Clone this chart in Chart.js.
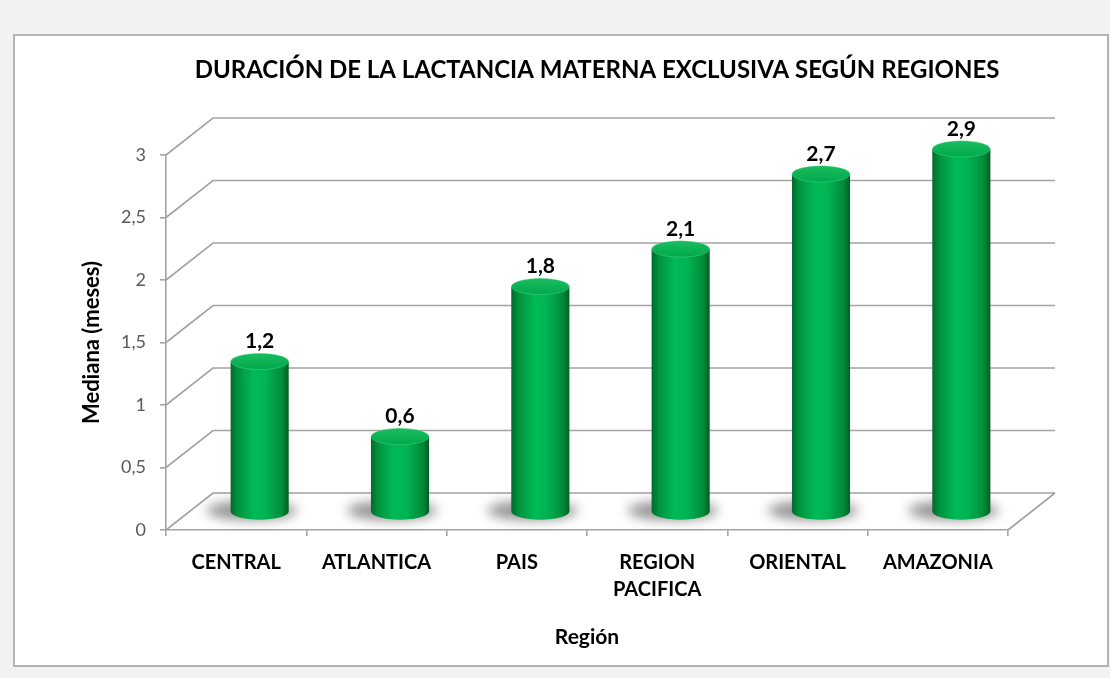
<!DOCTYPE html>
<html>
<head>
<meta charset="utf-8">
<script src="https://cdn.jsdelivr.net/npm/chart.js@4.4.1/dist/chart.umd.min.js"></script>
<style>
  html, body { margin: 0; padding: 0; background: #f2f2f2; }
  #wrap { position: absolute; left: 0; top: 0; width: 1110px; height: 678px; }
</style>
</head>
<body>
<div id="wrap"><canvas id="chart" width="1110" height="678"></canvas></div>
<script>
// data
const regiones = ['CENTRAL', 'ATLANTICA', 'PAIS', ['REGION', 'PACIFICA'], 'ORIENTAL', 'AMAZONIA'];
const medianas = [1.2, 0.6, 1.8, 2.1, 2.7, 2.9];
const yMin = 0, yMax = 3, yStep = 0.5;
const titulo = 'DURACIÓN DE LA LACTANCIA MATERNA EXCLUSIVA SEGÚN REGIONES';

const FONT = 'Lato, "Liberation Sans", sans-serif';
const GRID = '#a3a3a3';
// depth of the 3d "room"
const DX = 47, DY = -37;

const comma = v => String(v).replace('.', ',');

// white chart box on the gray page, plus the title
const framePlugin = {
  id: 'frame',
  beforeDraw(chart) {
    const ctx = chart.ctx;
    ctx.save();
    ctx.fillStyle = '#f2f2f2';
    ctx.fillRect(0, 0, chart.width, chart.height);
    ctx.fillStyle = '#ffffff';
    ctx.fillRect(14, 35, 1094, 631);
    ctx.strokeStyle = '#b4b4b4';
    ctx.lineWidth = 2;
    ctx.strokeRect(14, 35, 1094, 631);

    ctx.fillStyle = '#000';
    ctx.font = 'bold 24px ' + FONT;
    ctx.textAlign = 'center';
    ctx.textBaseline = 'middle';
    ctx.fillText(titulo, 597, 70);
    ctx.restore();
  }
};

// back wall + side wall grid lines
const roomPlugin = {
  id: 'room',
  beforeDatasetsDraw(chart) {
    const {ctx, chartArea: a, scales: {y}} = chart;
    ctx.save();
    ctx.strokeStyle = GRID;
    ctx.lineWidth = 1.6;
    y.ticks.forEach(t => {
      const py = y.getPixelForValue(t.value);
      ctx.beginPath();
      ctx.moveTo(a.left, py);
      ctx.lineTo(a.left + DX, py + DY);
      ctx.lineTo(a.right + DX, py + DY);
      ctx.stroke();
    });
    // right edge of the floor
    ctx.beginPath();
    ctx.moveTo(a.right, a.bottom);
    ctx.lineTo(a.right + DX, a.bottom + DY);
    ctx.stroke();
    ctx.restore();
  }
};

// draw each bar as a shaded cylinder standing in the middle of the floor
const cylinderPlugin = {
  id: 'cylinders',
  afterDatasetsDraw(chart) {
    const {ctx, scales: {x, y}} = chart;
    const meta = chart.getDatasetMeta(0);
    const catW = x.getPixelForValue(1) - x.getPixelForValue(0);
    const rx = catW * 0.207;
    const ry = rx * 0.28;
    const base = y.getPixelForValue(0) + DY / 2;

    meta.data.forEach((bar, i) => {
      const v = medianas[i];
      const xc = bar.x + DX / 2;
      const yt = y.getPixelForValue(v) + DY / 2;

      // soft shadow on the floor
      ctx.save();
      ctx.filter = 'blur(6px)';
      ctx.fillStyle = 'rgba(0,0,0,0.42)';
      ctx.beginPath();
      ctx.ellipse(xc - 8, base - 1, rx * 1.55, ry * 1.2, 0, 0, Math.PI * 2);
      ctx.fill();
      ctx.restore();

      // body
      ctx.save();
      const g = ctx.createLinearGradient(xc - rx, 0, xc + rx, 0);
      g.addColorStop(0, '#006a2b');
      g.addColorStop(0.12, '#00923e');
      g.addColorStop(0.4, '#00ba57');
      g.addColorStop(0.6, '#00b553');
      g.addColorStop(0.88, '#008c3a');
      g.addColorStop(1, '#005f25');
      ctx.fillStyle = g;
      ctx.beginPath();
      ctx.moveTo(xc - rx, yt);
      ctx.lineTo(xc - rx, base);
      ctx.ellipse(xc, base, rx, ry, 0, Math.PI, 0, true);
      ctx.lineTo(xc + rx, yt);
      ctx.closePath();
      ctx.fill();

      // top cap
      const gt = ctx.createLinearGradient(0, yt - ry, 0, yt + ry);
      gt.addColorStop(0, '#1bbd5f');
      gt.addColorStop(1, '#00a84c');
      ctx.fillStyle = gt;
      ctx.beginPath();
      ctx.ellipse(xc, yt, rx, ry, 0, 0, Math.PI * 2);
      ctx.fill();
      ctx.strokeStyle = 'rgba(120,230,160,0.35)';
      ctx.lineWidth = 1;
      ctx.stroke();

      // value label
      ctx.fillStyle = '#000';
      ctx.font = 'bold 21px ' + FONT;
      ctx.textAlign = 'center';
      ctx.textBaseline = 'middle';
      ctx.fillText(comma(v), xc, yt - 20);
      ctx.restore();
    });
  }
};

const data = {
  labels: regiones,
  datasets: [{
    label: 'Mediana (meses)',
    data: medianas,
    backgroundColor: 'rgba(0,0,0,0)',
    borderWidth: 0
  }]
};

const config = {
  type: 'bar',
  data,
  options: {
    responsive: false,
    animation: false,
    devicePixelRatio: 1,
    layout: {
      padding: {left: 20, right: 102, top: 155, bottom: 12}
    },
    plugins: {
      legend: {display: false},
      tooltip: {enabled: false},
      title: {display: false}
    },
    scales: {
      x: {
        offset: true,
        grid: {
          offset: true,
          drawOnChartArea: false,
          tickLength: 6,
          color: GRID,
          lineWidth: 1.6
        },
        border: {color: GRID, width: 1.6},
        ticks: {
          color: '#000',
          font: {family: FONT, size: 20, weight: 'bold', lineHeight: 1.35},
          padding: 13,
          maxRotation: 0,
          autoSkip: false
        },
        title: {
          display: true,
          text: 'Región',
          color: '#000',
          font: {family: FONT, size: 21, weight: 'bold'},
          padding: {top: 0, bottom: 16}
        },
        afterFit(scale) { scale.height = 136; }
      },
      y: {
        min: yMin,
        max: yMax,
        grid: {
          drawOnChartArea: false,
          tickLength: 6,
          color: GRID,
          lineWidth: 1.6
        },
        border: {color: GRID, width: 1.6},
        ticks: {
          stepSize: yStep,
          color: '#595959',
          font: {family: FONT, size: 18},
          padding: 14,
          callback: v => comma(v)
        },
        title: {
          display: true,
          text: 'Mediana (meses)',
          color: '#000',
          font: {family: FONT, size: 22, weight: 'bold'},
          padding: {top: 59, bottom: 0}
        },
        afterFit(scale) { scale.width = 146; }
      }
    }
  },
  plugins: [framePlugin, roomPlugin, cylinderPlugin]
};

const ctx = document.getElementById('chart').getContext('2d');
const myChart = new Chart(ctx, config);
</script>
</body>
</html>
